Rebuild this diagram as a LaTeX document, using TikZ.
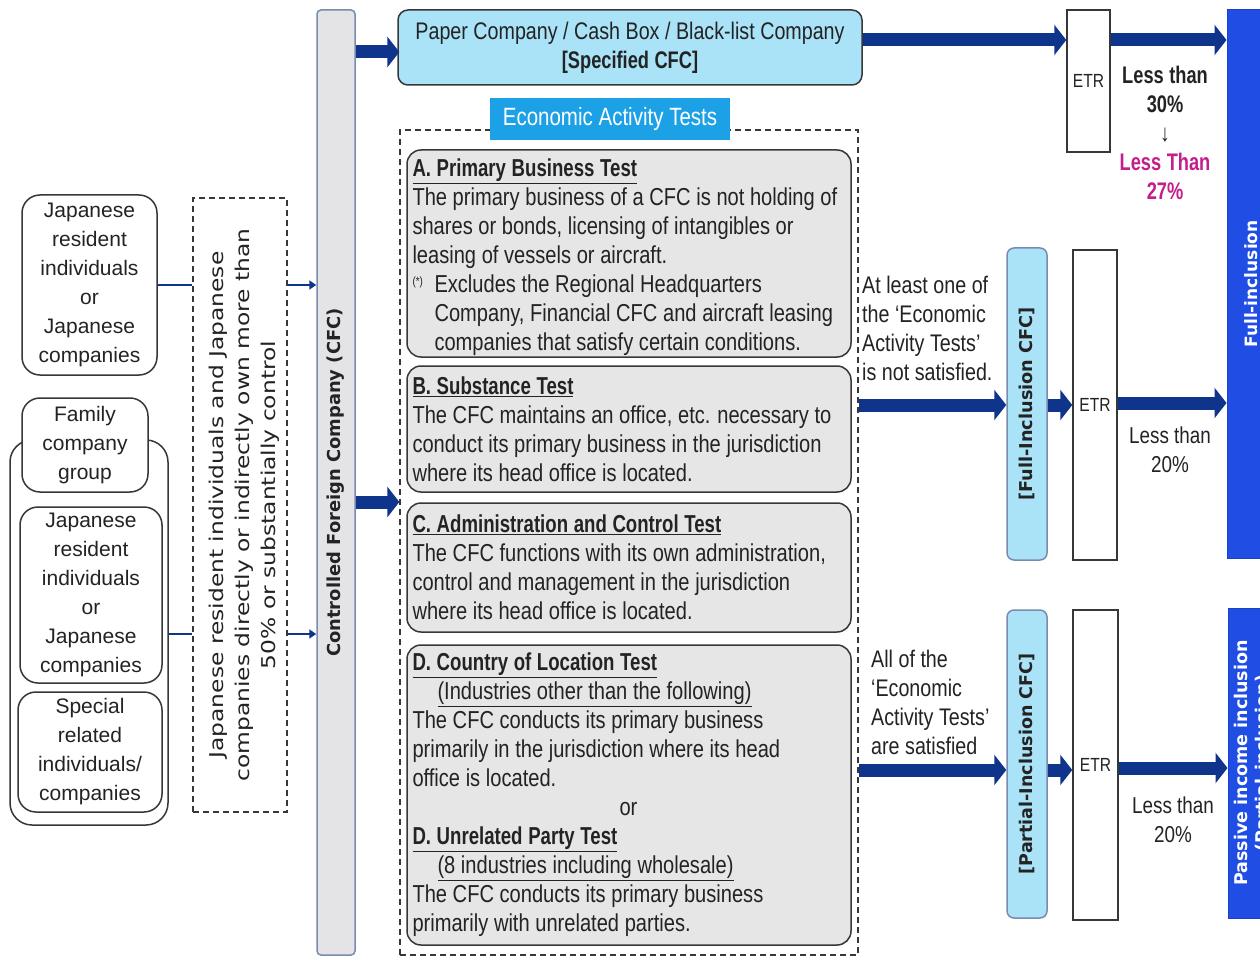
\documentclass[tikz,border=0pt]{standalone}
\usepackage{fontspec}
\setmainfont{Liberation Sans}
\newfontfamily\cnd[FakeStretch=0.82, BoldFeatures={FakeStretch=0.76}]{Liberation Sans}
\newfontfamily\dvs{DejaVu Sans}
\newfontfamily\dvw[FakeStretch=1.23]{DejaVu Sans}
\newcommand\cf[1]{\cnd\fontsize{#1}{29}\selectfont}
\usetikzlibrary{arrows.meta,calc}
\definecolor{navy}{RGB}{14,52,140}
\definecolor{lcyan}{RGB}{170,226,247}
\definecolor{eatblue}{RGB}{28,160,230}
\definecolor{bigblue}{RGB}{32,78,228}
\definecolor{cfcgray}{RGB}{228,228,230}
\definecolor{cfcedge}{RGB}{120,140,175}
\definecolor{testgray}{RGB}{230,230,230}
\definecolor{magent}{RGB}{196,30,140}
\definecolor{txt}{RGB}{35,35,35}
\definecolor{edge}{RGB}{55,55,55}
\tikzset{
  tight/.style={execute at begin node={\spaceskip=0.23em plus 0.08em minus 0.04em\xspaceskip=0.28em\relax}},
  lbox/.style={draw=edge, line width=1.5pt, rounded corners=18pt, fill=white, inner sep=0pt, align=center, text=txt,
    font=\fontsize{21}{29}\selectfont},
  dbox/.style={draw=edge, line width=1.3pt, dash pattern=on 6pt off 4pt, inner sep=0pt},
  tbox/.style={draw=edge, line width=1.5pt, rounded corners=14pt, fill=testgray, inner xsep=5.5pt, inner ysep=0pt,
    minimum width=444pt, text width=433pt, align=left, text=txt, font=\cf{24.5}, tight},
  cyanbox/.style={draw=cfcedge, line width=1.5pt, rounded corners=7pt, fill=lcyan, inner sep=0pt},
  etrbox/.style={draw=edge, line width=1.5pt, fill=white, inner sep=0pt, text=txt, font=\cf{19}},
  bluebox/.style={fill=bigblue, draw=bigblue!85!black, line width=1pt, inner sep=0pt},
  vlab/.style={rotate=90, inner sep=0pt, align=center},
  big/.style={draw=navy, line width=13pt, -{Triangle[length=12pt,width=30pt]}},
  thinarr/.style={draw=navy, line width=2.5pt, -{Triangle[length=7pt,width=9pt]}},
  thinline/.style={draw=navy, line width=2.5pt},
  rlab/.style={inner sep=0pt, text=txt, font=\cf{24}, align=left, anchor=west, tight},
}
\begin{document}
\begin{tikzpicture}[x=1pt,y=-1pt]
\useasboundingbox (0,0) rectangle (1260,957);
\fill[white] (0,0) rectangle (1260,957);

% left group
\node[lbox, minimum width=135pt, minimum height=180pt] (jp1) at (89.5,285)
  {Japanese\\resident\\individuals\\or\\Japanese\\companies};
\node[lbox, minimum width=158pt, minimum height=385pt, rounded corners=22pt] (grp) at (89,632.5) {};
\node[lbox, minimum width=126pt, minimum height=94pt] (fam) at (85,445) {Family\\company\\group};
\node[lbox, minimum width=142pt, minimum height=176pt] (jp2) at (91,595)
  {Japanese\\resident\\individuals\\or\\Japanese\\companies};
\node[lbox, minimum width=144pt, minimum height=120pt] (spc) at (90,752)
  {Special\\related\\individuals/\\companies};

% ownership dashed box
\node[dbox, minimum width=94pt, minimum height=614pt] (own) at (240,505) {};
\node[vlab, text=txt, font=\dvw\fontsize{19}{26}\selectfont] (ownlab) at (244,505)
  {Japanese resident individuals and Japanese\\companies directly or indirectly own more than\\50\% or substantially control};

% CFC bar
\node[draw=cfcedge, line width=1.5pt, rounded corners=4pt, fill=cfcgray, inner sep=0pt,
  minimum width=38pt, minimum height=945pt] (cfc) at (336,482.5) {};
\node[vlab, text=txt, font=\dvs\bfseries\fontsize{17.9}{20}\selectfont] (cfclab) at (cfc.center)
  {Controlled Foreign Company (CFC)};

\coordinate (ya) at (0,285);
\coordinate (yb) at (0,634);
\draw[thinline] (jp1.east) -- (own.west |- ya);
\draw[thinarr] (own.east |- ya) -- (cfc.west |- ya);
\draw[thinline] (grp.east |- yb) -- (own.west |- yb);
\draw[thinarr] (own.east |- yb) -- (cfc.west |- yb);

% paper company
\node[draw=edge, line width=1.5pt, rounded corners=10pt, fill=lcyan, inner sep=0pt, align=center, text=txt,
  minimum width=464pt, minimum height=75pt, font=\cf{24}, tight] (paper) at (630,47.5)
  {Paper Company / Cash Box / Black-list Company\\\textbf{[Specified CFC]}};

% tests container
\node[dbox, minimum width=458pt, minimum height=825pt] (tests) at (629,542.5) {};
\node[fill=eatblue, inner sep=0pt, minimum width=240pt, minimum height=42pt, text=white,
  font=\cf{25}, tight] (eat) at (610,119) {Economic Activity Tests};

\node[tbox, minimum height=207pt] (tA) at (629,253.5)
  {\rule{0pt}{26pt}\underline{\textbf{A. Primary Business Test}}\\
   The primary business of a CFC is not holding of\\
   shares or bonds, licensing of intangibles or\\
   leasing of vessels or aircraft.\\
   \makebox[22pt][l]{\raisebox{7pt}{\fontsize{12}{12}\selectfont(*)}}Excludes the Regional Headquarters\\
   \hspace*{22pt}Company, Financial CFC and aircraft leasing\\
   \hspace*{22pt}companies that satisfy certain conditions.};
\node[tbox, minimum height=126pt] (tB) at (629,429)
  {\underline{\textbf{B. Substance Test}}\\
   The CFC maintains an office, etc. necessary to\\
   conduct its primary business in the jurisdiction\\
   where its head office is located.};
\node[tbox, minimum height=129pt] (tC) at (629,567.5)
  {\underline{\textbf{C. Administration and Control Test}}\\
   The CFC functions with its own administration,\\
   control and management in the jurisdiction\\
   where its head office is located.};
\node[tbox, minimum height=300pt] (tD) at (629,795)
  {\underline{\textbf{D. Country of Location Test}}\\
   \hspace*{25pt}\underline{(Industries other than the following)}\\
   The CFC conducts its primary business\\
   primarily in the jurisdiction where its head\\
   office is located.\\
   \makebox[432pt]{or}\\
   \underline{\textbf{D. Unrelated Party Test}}\\
   \hspace*{25pt}\underline{(8 industries including wholesale)}\\
   The CFC conducts its primary business\\
   primarily with unrelated parties.};

\draw[big] (cfc.east |- 0,52) -- (tests.west |- 0,52);
\draw[big] (cfc.east |- 0,502) -- (tests.west |- 0,502);

% right column
\node[etrbox, minimum width=43pt, minimum height=142pt] (etr1) at (1088.5,81) {ETR};
\node[cyanbox, minimum width=40pt, minimum height=312pt] (fic) at (1027,404) {};
\node[vlab, text=txt, font=\dvs\bfseries\fontsize{17.7}{20}\selectfont] (ficlab) at (fic.center) {[Full-Inclusion CFC]};
\node[etrbox, minimum width=44pt, minimum height=310pt] (etr2) at (1095,405) {ETR};
\node[cyanbox, minimum width=40pt, minimum height=308pt] (pic) at (1027,764) {};
\node[vlab, text=txt, font=\dvs\bfseries\fontsize{17.5}{20}\selectfont] (piclab) at (pic.center) {[Partial-Inclusion CFC]};
\node[etrbox, minimum width=45pt, minimum height=310pt] (etr3) at (1095.5,765) {ETR};
\node[bluebox, minimum width=48pt, minimum height=548pt] (full) at (1251,284) {};
\node[vlab, text=white, font=\dvs\bfseries\fontsize{17}{20}\selectfont] (fulllab) at (full.center) {Full-inclusion};
\node[bluebox, minimum width=50pt, minimum height=310pt] (pas) at (1253,763) {};
\node[vlab, text=white, font=\dvs\bfseries\fontsize{17.5}{21}\selectfont] (paslab) at (1252,763) {Passive income inclusion\\(Partial-inclusion)};

\node[inner sep=0pt, align=center, text=txt, font=\cf{24}\bfseries, tight] (lt30) at (1165,133)
  {Less than\\30\%\\{\mdseries\fontsize{24}{29}\selectfont ↓}\\\textcolor{magent}{Less Than}\\\textcolor{magent}{27\%}};
\node[inner sep=0pt, align=center, text=txt, font=\cf{23}, tight] (lt20a) at (1170,450) {Less than\\20\%};
\node[inner sep=0pt, align=center, text=txt, font=\cf{23}, tight] (lt20b) at (1173,820) {Less than\\20\%};

\node[rlab] (notsat) at (862,328) {At least one of\\the ‘Economic\\Activity Tests’\\is not satisfied.};
\node[rlab] (allsat) at (871,702) {All of the\\‘Economic\\Activity Tests’\\are satisfied};

\draw[big] (paper.east |- 0,40) -- (etr1.west |- 0,40);
\draw[big] (etr1.east |- 0,40) -- (full.west |- 0,40);
\draw[big] (tests.east |- 0,405) -- (fic.west |- 0,405);
\draw[big] (fic.east |- 0,405) -- (etr2.west |- 0,405);
\draw[big] (etr2.east |- 0,403) -- (full.west |- 0,403);
\draw[big] (tests.east |- 0,770) -- (pic.west |- 0,770);
\draw[big] (pic.east |- 0,770) -- (etr3.west |- 0,770);
\draw[big] (etr3.east |- 0,768) -- (pas.west |- 0,768);
\end{tikzpicture}
\end{document}
